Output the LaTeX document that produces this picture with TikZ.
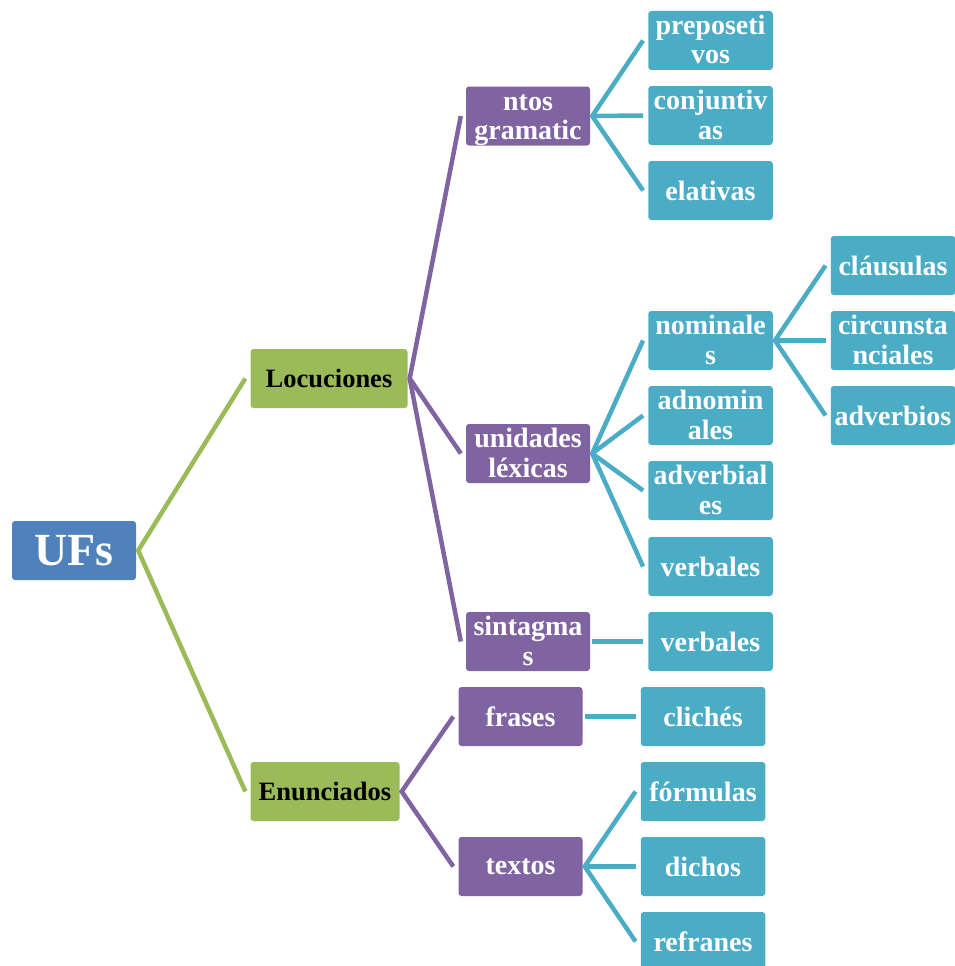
\documentclass[tikz,border=0pt]{standalone}
\usepackage{fontspec}
\setmainfont{Liberation Serif}
\usetikzlibrary{calc}
\definecolor{cblue}{HTML}{4F81BD}
\definecolor{cgreen}{HTML}{9BBB59}
\definecolor{cpurple}{HTML}{8064A2}
\definecolor{ccyan}{HTML}{4BACC6}
% two stacked lines, first baseline 6pt above the box centre
\newcommand{\duo}[2]{\raisebox{6pt}[0pt][0pt]{\begin{tabular}[t]{@{}c@{}}#1\\#2\end{tabular}}}
\tikzset{
  box/.style={rounded corners=3pt, inner sep=0pt, align=center,
    font=\bfseries\fontsize{28}{29.5}\selectfont, text=white},
  rootbox/.style={box, fill=cblue, minimum width=124pt, minimum height=59pt,
    font=\bfseries\fontsize{46}{48}\selectfont},
  lvlone/.style={box, fill=cgreen, minimum height=59pt, text=black,
    font=\bfseries\fontsize{26.5}{28}\selectfont},
  lvltwo/.style={box, fill=cpurple, minimum width=124pt, minimum height=59pt},
  leaf/.style={box, fill=ccyan, minimum width=124.5pt, minimum height=59pt},
  link/.style={line width=4.5pt, line join=miter},
  glink/.style={link, draw=cgreen},
  plink/.style={link, draw=cpurple},
  clink/.style={link, draw=ccyan},
}
\begin{document}
\begin{tikzpicture}[x=1pt,y=-1pt]
\useasboundingbox (0,0) rectangle (955,966);
\begin{scope}
\clip (0,0) rectangle (955,966);

% root and first level
\node[rootbox] (ufs) at (74,550.5) {UFs};
\node[lvlone, minimum width=157pt] (loc) at (329,378.5) {Locuciones};
\node[lvlone, minimum width=149pt] (enu) at (325,791.5) {Enunciados};

% second level
\node[lvltwo] (gram) at (528,116) {\duo{ntos}{gramatic}};
\node[lvltwo] (lex) at (528,453.5) {\duo{unidades}{léxicas}};
\node[lvltwo] (sint) at (528,641.5) {\duo{sintagma}{s}};
\node[lvltwo] (fras) at (520.5,716.5) {frases};
\node[lvltwo] (text) at (520.5,866.5) {textos};

% leaves
\node[leaf] (prep) at (710.5,40.5) {\duo{preposeti}{vos}};
\node[leaf] (conj) at (710.5,115.5) {\duo{conjuntiv}{as}};
\node[leaf] (elat) at (710.5,190.5) {elativas};
\node[leaf] (nom) at (710.5,340.5) {\duo{nominale}{s}};
\node[leaf] (adnom) at (710.5,415.5) {\duo{adnomin}{ales}};
\node[leaf] (advb) at (710.5,490.5) {\duo{adverbial}{es}};
\node[leaf] (verb) at (710.5,566.5) {verbales};
\node[leaf] (verbb) at (710.5,641.5) {verbales};
\node[leaf] (clic) at (703,716.5) {clichés};
\node[leaf] (form) at (703,791.5) {fórmulas};
\node[leaf] (dich) at (703,866.5) {dichos};
\node[leaf] (refr) at (703,941.5) {refranes};
\node[leaf] (clau) at (893,265.5) {cláusulas};
\node[leaf] (circ) at (893,340.5) {\duo{circunsta}{nciales}};
\node[leaf] (advs) at (893,415.5) {adverbios};

% connectors
\draw[glink] ($(loc.west)+(-5,0)$) -- ($(ufs.east)+(2,0)$) -- ($(enu.west)+(-5,0)$);

\draw[plink] ($(gram.west)+(-5,0)$) -- ($(loc.east)+(2,0)$) -- ($(sint.west)+(-5,0)$);
\draw[plink] ($(loc.east)+(2,0)$) -- ($(lex.west)+(-5,0)$);
\draw[plink] ($(fras.west)+(-5,0)$) -- ($(enu.east)+(2,0)$) -- ($(text.west)+(-5,0)$);

\draw[clink] ($(prep.west)+(-5,0)$) -- ($(gram.east)+(2,0)$) -- ($(elat.west)+(-5,0)$);
\draw[clink] ($(gram.east)+(2,0)$) -- ($(conj.west)+(-5,0)$);

\draw[clink] ($(nom.west)+(-5,0)$) -- ($(lex.east)+(2,0)$) -- ($(verb.west)+(-5,0)$);
\draw[clink] ($(lex.east)+(2,0)$) -- ($(adnom.west)+(-5,0)$);
\draw[clink] ($(lex.east)+(2,0)$) -- ($(advb.west)+(-5,0)$);

\draw[clink] ($(sint.east)+(2,0)$) -- ($(verbb.west)+(-5,0)$);
\draw[clink] ($(fras.east)+(2,0)$) -- ($(clic.west)+(-5,0)$);

\draw[clink] ($(form.west)+(-5,0)$) -- ($(text.east)+(2,0)$) -- ($(refr.west)+(-5,0)$);
\draw[clink] ($(text.east)+(2,0)$) -- ($(dich.west)+(-5,0)$);

\draw[clink] ($(clau.west)+(-5,0)$) -- ($(nom.east)+(2,0)$) -- ($(advs.west)+(-5,0)$);
\draw[clink] ($(nom.east)+(2,0)$) -- ($(circ.west)+(-5,0)$);
\end{scope}
\end{tikzpicture}
\end{document}
